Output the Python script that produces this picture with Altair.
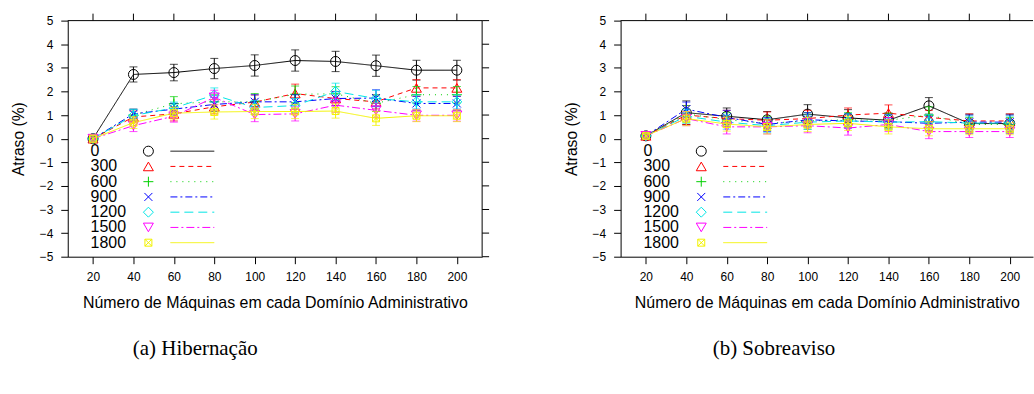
import altair as alt
import pandas as pd

# Number of machines per administrative domain (x axis)
machines = [20, 40, 60, 80, 100, 120, 140, 160, 180, 200]
series = ["0", "300", "600", "900", "1200", "1500", "1800"]
y_ticks = [-5, -4, -3, -2, -1, 0, 1, 2, 3, 4, 5]

# (a) Hibernação: mean delay (%) for each series
hib_0 = [0.00, 2.72, 2.80, 2.97, 3.10, 3.31, 3.27, 3.09, 2.90, 2.90]
hib_300 = [0.00, 0.92, 1.05, 1.35, 1.55, 1.91, 1.70, 1.56, 2.15, 2.15]
hib_600 = [0.00, 1.00, 1.48, 1.56, 1.56, 1.88, 1.90, 1.50, 1.86, 1.86]
hib_900 = [0.00, 1.05, 1.25, 1.45, 1.56, 1.56, 1.70, 1.72, 1.49, 1.49]
hib_1200 = [0.00, 0.98, 1.30, 1.85, 1.32, 1.40, 2.00, 1.70, 1.56, 1.56]
hib_1500 = [0.00, 0.55, 0.95, 1.75, 1.02, 1.05, 1.42, 1.20, 0.99, 0.99]
hib_1800 = [0.00, 0.68, 1.08, 1.13, 1.15, 1.15, 1.17, 0.86, 0.97, 0.97]

# (a) Hibernação: half-width of the error bars
hib_err_0 = [0.15, 0.32, 0.35, 0.43, 0.45, 0.45, 0.43, 0.45, 0.42, 0.42]
hib_err_300 = [0.15, 0.25, 0.30, 0.30, 0.30, 0.40, 0.30, 0.30, 0.35, 0.35]
hib_err_600 = [0.15, 0.25, 0.30, 0.30, 0.35, 0.35, 0.30, 0.35, 0.35, 0.35]
hib_err_900 = [0.15, 0.20, 0.25, 0.30, 0.30, 0.30, 0.30, 0.35, 0.30, 0.30]
hib_err_1200 = [0.15, 0.25, 0.25, 0.30, 0.30, 0.30, 0.35, 0.35, 0.30, 0.30]
hib_err_1500 = [0.15, 0.25, 0.25, 0.30, 0.30, 0.30, 0.30, 0.30, 0.25, 0.25]
hib_err_1800 = [0.15, 0.25, 0.25, 0.30, 0.30, 0.30, 0.30, 0.30, 0.25, 0.25]

# (b) Sobreaviso: mean delay (%) for each series
sob_0 = [0.12, 1.10, 0.95, 0.80, 1.04, 0.88, 0.78, 1.39, 0.64, 0.64]
sob_300 = [0.12, 1.00, 0.85, 0.78, 0.85, 1.00, 1.08, 0.90, 0.75, 0.75]
sob_600 = [0.12, 1.05, 0.80, 0.65, 0.75, 0.80, 0.78, 1.00, 0.60, 0.60]
sob_900 = [0.12, 1.25, 0.90, 0.60, 0.80, 0.75, 0.72, 0.65, 0.70, 0.70]
sob_1200 = [0.12, 0.95, 0.70, 0.55, 0.70, 0.75, 0.70, 0.72, 0.66, 0.66]
sob_1500 = [0.12, 0.85, 0.50, 0.50, 0.55, 0.45, 0.60, 0.30, 0.30, 0.30]
sob_1800 = [0.12, 0.85, 0.62, 0.50, 0.60, 0.65, 0.50, 0.42, 0.42, 0.42]

# (b) Sobreaviso: half-width of the error bars
sob_err_0 = [0.10, 0.50, 0.35, 0.35, 0.40, 0.35, 0.30, 0.35, 0.40, 0.40]
sob_err_300 = [0.10, 0.40, 0.35, 0.35, 0.35, 0.30, 0.35, 0.30, 0.30, 0.30]
sob_err_600 = [0.10, 0.35, 0.30, 0.30, 0.35, 0.30, 0.30, 0.35, 0.30, 0.30]
sob_err_900 = [0.10, 0.30, 0.30, 0.30, 0.30, 0.30, 0.30, 0.30, 0.30, 0.30]
sob_err_1200 = [0.10, 0.30, 0.30, 0.30, 0.30, 0.30, 0.30, 0.30, 0.30, 0.30]
sob_err_1500 = [0.10, 0.30, 0.30, 0.30, 0.30, 0.30, 0.30, 0.30, 0.25, 0.25]
sob_err_1800 = [0.10, 0.30, 0.30, 0.30, 0.30, 0.30, 0.30, 0.30, 0.25, 0.25]

hib_means = [hib_0, hib_300, hib_600, hib_900, hib_1200, hib_1500, hib_1800]
hib_errs = [hib_err_0, hib_err_300, hib_err_600, hib_err_900, hib_err_1200, hib_err_1500, hib_err_1800]
sob_means = [sob_0, sob_300, sob_600, sob_900, sob_1200, sob_1500, sob_1800]
sob_errs = [sob_err_0, sob_err_300, sob_err_600, sob_err_900, sob_err_1200, sob_err_1500, sob_err_1800]

# gnuplot-like styling for each series
COLORS = ["#000000", "#ff0000", "#00d000", "#0000ff", "#00e5e5", "#ff00ff", "#f2f200"]
DASHES = [[1, 0], [5, 4], [1, 5], [7, 3, 2, 3], [9, 5], [8, 3, 2, 3], [1, 0]]
SHAPES = [
    "circle",
    "triangle-up",
    "M-1,0L1,0M0,-1L0,1",
    "M-0.8,-0.8L0.8,0.8M-0.8,0.8L0.8,-0.8",
    "diamond",
    "triangle-down",
    "M-0.7,-0.7L0.7,-0.7L0.7,0.7L-0.7,0.7ZM-0.7,-0.7L0.7,0.7M-0.7,0.7L0.7,-0.7",
]

SANS = "Liberation Sans"
SERIF = "Liberation Serif"
HEIGHT = 237
TICK = 7

# legend placement inside the plot (data units)
LEG_TEXT_X = 18.8
LEG_SYM_X = 47.4
LEG_LINE_X0 = 58.3
LEG_LINE_X1 = 80.0
LEG_Y0 = -0.53
LEG_DY = 0.646


def panel(means, errs, caption, cap_dx, width, x_max, right_frame):
    xscale = alt.Scale(domain=[7.5, x_max], nice=False, zero=False)
    yscale = alt.Scale(domain=[-5, 5], nice=False, zero=False)
    xaxis = alt.Axis(
        values=machines, grid=False, tickSize=TICK, labelPadding=8, titlePadding=12,
        domainColor="black", tickColor="black", labelColor="black", titleColor="black",
        labelFont=SANS, titleFont=SANS, labelFontSize=12, titleFontSize=16,
        titleFontWeight="normal", labelFlush=False,
    )
    yaxis = alt.Axis(
        values=y_ticks, grid=False, tickSize=TICK, labelPadding=8, titlePadding=13,
        domainColor="black", tickColor="black", labelColor="black", titleColor="black",
        labelFont=SANS, titleFont=SANS, labelFontSize=12, titleFontSize=15.7,
        titleFontWeight="normal",
    )
    xtitle = "Número de Máquinas em cada Domínio Administrativo"
    ytitle = "Atraso (%)"

    def ex(f):
        return alt.X(f, type="quantitative", scale=xscale, axis=xaxis, title=xtitle)

    def ey(f):
        return alt.Y(f, type="quantitative", scale=yscale, axis=yaxis, title=ytitle)

    layers = []
    for i, name in enumerate(series):
        df = pd.DataFrame({
            "x": machines,
            "y": means[i],
            "lo": [m - e for m, e in zip(means[i], errs[i])],
            "hi": [m + e for m, e in zip(means[i], errs[i])],
        })
        base = alt.Chart(df)
        c = COLORS[i]
        layers.append(base.mark_rule(color=c, strokeWidth=1).encode(x=ex("x"), y=ey("lo"), y2=alt.Y2("hi")))
        layers.append(base.mark_tick(orient="horizontal", color=c, size=8, thickness=1).encode(x=ex("x"), y=ey("lo")))
        layers.append(base.mark_tick(orient="horizontal", color=c, size=8, thickness=1).encode(x=ex("x"), y=ey("hi")))
        layers.append(base.mark_line(color=c, strokeWidth=1, strokeDash=DASHES[i]).encode(x=ex("x"), y=ey("y")))
        layers.append(base.mark_point(shape=SHAPES[i], color=c, filled=False, size=100, strokeWidth=1, opacity=1).encode(x=ex("x"), y=ey("y")))

    # key drawn inside the plot: label, symbol, line sample
    leg = pd.DataFrame({
        "name": series,
        "tx": [LEG_TEXT_X] * len(series),
        "sx": [LEG_SYM_X] * len(series),
        "x0": [LEG_LINE_X0] * len(series),
        "x1": [LEG_LINE_X1] * len(series),
        "ly": [LEG_Y0 - LEG_DY * k for k in range(len(series))],
    })
    layers.append(alt.Chart(leg).mark_text(align="left", baseline="middle", font=SANS, fontSize=16, color="black").encode(
        x=ex("tx"), y=ey("ly"), text="name:N"))
    for i in range(len(series)):
        row = alt.Chart(leg.iloc[[i]])
        layers.append(row.mark_point(shape=SHAPES[i], color=COLORS[i], filled=False, size=100, strokeWidth=1, opacity=1).encode(
            x=ex("sx"), y=ey("ly")))
        layers.append(row.mark_rule(color=COLORS[i], strokeWidth=1, strokeDash=DASHES[i]).encode(
            x=ex("x0"), x2=alt.X2("x1"), y=ey("ly")))

    # frame: top border with outward ticks, optional right border with ticks
    one = pd.DataFrame({"k": [0]})
    layers.append(alt.Chart(one).mark_rule(color="black", strokeWidth=1).encode(
        x=alt.value(0), x2=alt.value(width), y=alt.value(0)))
    layers.append(alt.Chart(pd.DataFrame({"x": machines})).mark_rule(color="black", strokeWidth=1).encode(
        x=ex("x"), y=alt.value(0), y2=alt.value(-TICK)))
    if right_frame:
        layers.append(alt.Chart(one).mark_rule(color="black", strokeWidth=1).encode(
            x=alt.value(width), y=alt.value(0), y2=alt.value(HEIGHT)))
        layers.append(alt.Chart(pd.DataFrame({"t": y_ticks})).mark_rule(color="black", strokeWidth=1).encode(
            y=ey("t"), x=alt.value(width), x2=alt.value(width + TICK)))

    return alt.layer(*layers).properties(
        width=width,
        height=HEIGHT,
        title=alt.TitleParams(
            caption, orient="bottom", anchor="middle", dx=cap_dx, offset=28,
            font=SERIF, fontSize=21, fontWeight="normal", color="black",
        ),
    )


left = panel(hib_means, hib_errs, "(a)  Hibernação", -80, 416, 212.5, True)
right = panel(sob_means, sob_errs, "(b)  Sobreaviso", -53, 414, 211.5, False)

chart = alt.hconcat(left, right, spacing=73).properties(
    padding={"left": 10, "top": 12, "right": 0, "bottom": 0},
    background="white",
).configure_view(stroke=None)

chart.save("out.html", embed_options={"renderer": "svg", "actions": False})
